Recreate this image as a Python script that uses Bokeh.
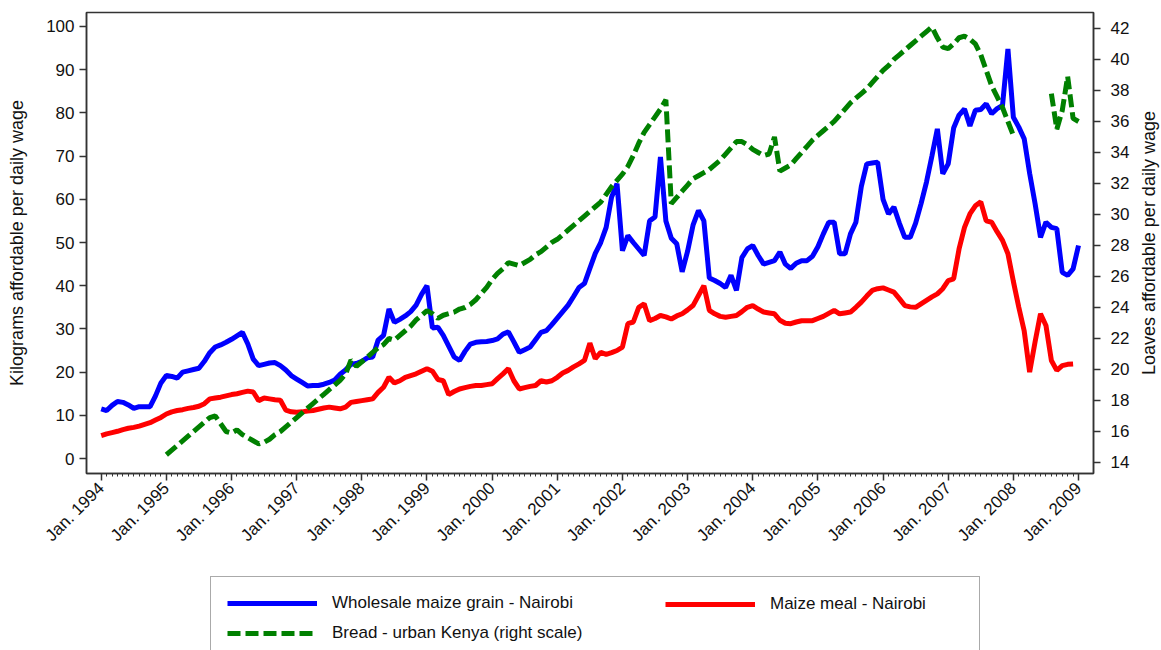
import math
from bokeh.plotting import figure
from bokeh.layouts import gridplot
from bokeh.models import (Range1d, LinearAxis, FixedTicker, Legend, LegendItem)
from bokeh.embed import file_html
from bokeh.resources import INLINE

NaN = float("nan")

# month index 0 = Jan. 1994 ... 180 = Jan. 2009
year_labels = ["Jan. %d" % y for y in range(1994, 2010)]

maize_grain = [
    11.5, 11.1, 12.3, 13.2, 13.0, 12.4, 11.6, 12.0, 12.0, 12.0, 14.5, 17.5,
    19.2, 19.0, 18.6, 20.0, 20.3, 20.6, 20.9, 22.5, 24.5, 25.8, 26.3, 26.9,
    27.6, 28.4, 29.2, 26.5, 23.0, 21.5, 21.8, 22.1, 22.2, 21.5, 20.5, 19.2,
    18.4, 17.6, 16.8, 16.9, 16.9, 17.2, 17.6, 18.2, 19.5, 20.5, 21.8, 22.0,
    22.5, 23.3, 23.5, 27.4, 28.5, 34.6, 31.5, 32.2, 33.0, 34.0, 35.5, 38.0,
    40.0, 30.2, 30.4, 28.5, 26.0, 23.5, 22.7, 24.8, 26.5, 26.9, 27.0, 27.1,
    27.3, 27.7, 28.8, 29.3, 27.0, 24.6, 25.2, 25.8, 27.5, 29.2, 29.6, 31.0,
    32.5, 34.0, 35.5, 37.5, 39.6, 40.5, 44.0, 47.5, 50.0, 53.5, 60.5, 63.6,
    48.1, 51.6, 50.0, 48.5, 47.0, 55.0, 55.9, 69.8, 55.0, 51.0, 49.7, 43.2,
    48.0, 54.0, 57.4, 55.0, 41.8, 41.2, 40.5, 39.6, 42.4, 38.9, 46.5, 48.5,
    49.3, 47.0, 45.0, 45.4, 45.8, 47.8, 45.0, 44.0, 45.2, 45.8, 45.8, 46.8,
    49.0, 52.0, 54.7, 54.7, 47.4, 47.4, 52.0, 54.7, 63.0, 68.2, 68.4, 68.6,
    60.0, 56.6, 58.2, 54.5, 51.2, 51.2, 54.5, 59.0, 64.0, 70.0, 76.3, 65.9,
    68.2, 76.5, 79.5, 80.9, 77.0, 80.6, 80.8, 82.1, 79.8, 81.0, 81.7, 94.8,
    79.0, 76.7, 74.0, 66.0, 59.0, 51.2, 54.7, 53.5, 53.2, 43.1, 42.4, 43.9,
    49.3,
]

maize_meal = [
    5.3, 5.7, 6.0, 6.3, 6.7, 7.0, 7.2, 7.5, 7.9, 8.3, 8.9, 9.5,
    10.3, 10.8, 11.1, 11.3, 11.6, 11.8, 12.1, 12.7, 13.8, 14.0, 14.2, 14.5,
    14.8, 15.0, 15.3, 15.6, 15.4, 13.4, 14.0, 13.8, 13.6, 13.5, 11.2, 10.8,
    10.7, 10.8, 11.0, 11.1, 11.4, 11.7, 11.9, 11.7, 11.5, 11.9, 13.0, 13.2,
    13.4, 13.6, 13.8, 15.3, 16.5, 18.8, 17.5, 18.0, 18.8, 19.2, 19.6, 20.2,
    20.8, 20.2, 18.3, 18.0, 14.8, 15.5, 16.1, 16.4, 16.7, 16.9, 16.9, 17.1,
    17.3, 18.5, 19.6, 20.8, 18.0, 16.1, 16.4, 16.7, 16.9, 18.0, 17.7, 18.0,
    18.8, 19.8, 20.4, 21.2, 21.9, 22.7, 26.7, 23.1, 24.6, 24.1, 24.5, 25.0,
    25.8, 31.2, 31.6, 35.0, 35.8, 31.9, 32.4, 33.1, 32.8, 32.3, 33.0, 33.5,
    34.4, 35.4, 37.7, 40.0, 34.3, 33.5, 32.9, 32.7, 32.9, 33.1, 34.0, 35.0,
    35.4, 34.6, 33.9, 33.7, 33.5, 32.0, 31.3, 31.2, 31.6, 31.9, 31.9, 31.9,
    32.4, 32.9, 33.6, 34.3, 33.5, 33.7, 33.9, 35.0, 36.2, 37.6, 38.9, 39.3,
    39.5, 39.0, 38.5, 37.0, 35.4, 35.1, 35.0, 35.8, 36.6, 37.4, 38.1, 39.3,
    41.2, 41.6, 48.5, 53.5, 56.6, 58.5, 59.4, 55.0, 54.7, 52.5, 50.5, 47.4,
    41.0, 35.0, 29.5, 20.0, 27.0, 33.5, 30.8, 22.7, 20.4, 21.5, 21.8, 21.9,
]

bread = [NaN] * 12 + [
    14.5, 14.8, 15.1, 15.4, 15.7, 16.0, 16.3, 16.6, 16.9, 17.0, 16.5, 16.0,
    15.9, 16.1, 15.8, 15.6, 15.4, 15.2, 15.3, 15.5, 15.8, 16.0, 16.3, 16.6,
    16.9, 17.2, 17.5, 17.8, 18.1, 18.4, 18.7, 19.0, 19.3, 19.7, 20.6, 20.2,
    20.5, 20.8, 21.1, 21.4, 21.6, 22.0, 21.9, 22.2, 22.5, 22.8, 23.2, 23.5,
    23.8, 23.6, 23.3, 23.5, 23.6, 23.7, 23.9, 24.0, 24.2, 24.5, 24.9, 25.3,
    25.8, 26.2, 26.5, 26.9, 26.8, 26.7, 26.9, 27.1, 27.4, 27.6, 27.9, 28.2,
    28.4, 28.7, 29.0, 29.3, 29.6, 29.9, 30.2, 30.5, 30.8, 31.3, 31.8, 32.2,
    32.6, 33.1, 33.8, 34.6, 35.3, 35.8, 36.3, 36.8, 37.4, 30.7, 31.1, 31.5,
    31.9, 32.3, 32.5, 32.7, 32.9, 33.2, 33.5, 33.9, 34.3, 34.7, 34.7, 34.5,
    34.2, 34.0, 33.8, 33.9, 35.0, 32.8, 33.0, 33.2, 33.6, 34.0, 34.4, 34.8,
    35.1, 35.4, 35.7, 36.0, 36.4, 36.8, 37.2, 37.5, 37.8, 38.1, 38.5, 38.9,
    39.3, 39.6, 40.0, 40.3, 40.6, 40.9, 41.2, 41.5, 41.8, 42.1, 41.4, 40.8,
    40.7, 41.0, 41.4, 41.5, 41.3, 41.0, 40.3, 39.3, 38.3, 37.6, 36.9, 36.0,
    35.1, NaN, NaN, NaN, NaN, NaN, NaN, 37.8, 35.5, 36.7, 38.9, 36.2,
    36.0,
]

series_names = ["Wholesale maize grain - Nairobi", "Maize meal - Nairobi",
                "Bread - urban Kenya (right scale)"]
left_title = "Kilograms affordable per daily wage"
right_title = "Loaves affordable per daily wage"

months_grain = list(range(len(maize_grain)))
months_meal = list(range(len(maize_meal)))
months_bread = list(range(len(bread)))

FONT = "Liberation Sans"
AX = "#333333"
BLUE, RED, GREEN = "#0000ff", "#ff0000", "#008000"
DASH = "13 5"
RIGHT_RANGE = (13.29, 43.03)

p = figure(width=1133, height=570, output_backend="svg", toolbar_location=None,
           x_range=Range1d(-2.71, 182.76), y_range=Range1d(-3.47, 103.24),
           min_border_left=86, min_border_right=40, min_border_top=12,
           min_border_bottom=97)
p.extra_y_ranges = {"right": Range1d(*RIGHT_RANGE)}
p.xgrid.visible = False
p.ygrid.visible = False
p.outline_line_color = AX
p.outline_line_width = 1.5
p.background_fill_color = "white"
p.border_fill_color = "white"

p.line(months_grain, maize_grain, line_color=BLUE, line_width=5)
p.line(months_meal, maize_meal, line_color=RED, line_width=5)
p.line(months_bread, bread, line_color=GREEN, line_width=5,
       line_dash=DASH, y_range_name="right")

# x axis
xa = p.xaxis[0]
xa.ticker = FixedTicker(ticks=[12 * i for i in range(len(year_labels))],
                        minor_ticks=list(range(0, 181)))
xa.major_label_overrides = {12 * i: lab for i, lab in enumerate(year_labels)}
xa.major_label_orientation = math.pi / 4

# left axis
ya = p.yaxis[0]
ya.ticker = FixedTicker(ticks=list(range(0, 101, 10)))
ya.axis_label = left_title
ya.minor_tick_line_color = None

# right axis (its title is drawn by the narrow panel to the right)
yr = LinearAxis(y_range_name="right", ticker=FixedTicker(ticks=list(range(14, 43, 2))))
yr.minor_tick_line_color = None
p.add_layout(yr, "right")

for ax in [xa, ya, yr]:
    ax.axis_line_color = AX
    ax.axis_line_width = 1.5
    ax.major_tick_line_color = AX
    ax.major_tick_line_width = 1.5
    ax.major_tick_out = 7
    ax.major_tick_in = 0
    ax.major_label_text_font = FONT
    ax.major_label_text_font_size = "17px"
    ax.major_label_text_color = "#111111"
    ax.axis_label_text_font = FONT
    ax.axis_label_text_font_size = "18px"
    ax.axis_label_text_font_style = "normal"
    ax.axis_label_text_color = "#111111"
xa.minor_tick_line_color = AX
xa.minor_tick_line_width = 1
xa.minor_tick_out = 3
xa.minor_tick_in = 0
xa.major_label_standoff = 5
ya.major_label_standoff = 5
yr.major_label_standoff = 10
ya.axis_label_standoff = 16

# narrow panel that carries the right-hand axis title (reads bottom to top)
r = figure(width=28, height=570, output_backend="svg", toolbar_location=None,
           x_axis_location=None, y_range=Range1d(*RIGHT_RANGE),
           x_range=Range1d(0, 1),
           min_border_left=25, min_border_right=0, min_border_top=12,
           min_border_bottom=97)
r.xgrid.visible = False
r.ygrid.visible = False
r.outline_line_color = None
ra = r.yaxis[0]
ra.ticker = FixedTicker(ticks=[])
ra.axis_line_color = None
ra.major_tick_line_color = None
ra.minor_tick_line_color = None
ra.axis_label = right_title
ra.axis_label_standoff = 0
ra.axis_label_text_font = FONT
ra.axis_label_text_font_size = "18px"
ra.axis_label_text_font_style = "normal"
ra.axis_label_text_color = "#111111"

# legend area below the chart (its frame is aligned with the chart's frame)
q = figure(width=1133, height=80, output_backend="svg", toolbar_location=None,
           x_axis_location=None, y_axis_location=None,
           min_border_left=0, min_border_right=0, min_border_top=0,
           min_border_bottom=0, x_range=Range1d(0, 1), y_range=Range1d(0, 1))
q.xgrid.visible = False
q.ygrid.visible = False
q.outline_line_color = None
# legend-only renderers (no visible data)
lg_grain = q.line([NaN, NaN], [NaN, NaN], line_color=BLUE, line_width=5)
lg_meal = q.line([NaN, NaN], [NaN, NaN], line_color=RED, line_width=5)
lg_bread = q.line([NaN, NaN], [NaN, NaN], line_color=GREEN, line_width=5,
                  line_dash=DASH)


def style(lg):
    lg.glyph_width = 90
    lg.glyph_height = 20
    lg.label_standoff = 15
    lg.padding = 16
    lg.spacing = 10
    lg.margin = 0
    lg.label_text_font = FONT
    lg.label_text_font_size = "17px"
    lg.label_text_color = "#111111"


legend_a = Legend(items=[
    LegendItem(label=series_names[0], renderers=[lg_grain]),
    LegendItem(label=series_names[2], renderers=[lg_bread]),
], location=(124, -10), orientation="vertical")
style(legend_a)
legend_a.label_width = 631
legend_a.border_line_color = "#555555"
legend_a.border_line_width = 1.5
legend_a.background_fill_alpha = 1.0

legend_b = Legend(items=[
    LegendItem(label=series_names[1], renderers=[lg_meal]),
], location=(563, -10 + 30), orientation="vertical")
style(legend_b)
legend_b.border_line_alpha = 0
legend_b.background_fill_alpha = 0

q.add_layout(legend_a, "center")
q.add_layout(legend_b, "center")

layout = gridplot([[p, r], [q, None]], toolbar_location=None)
open("out.html", "w").write(file_html(layout, INLINE))
